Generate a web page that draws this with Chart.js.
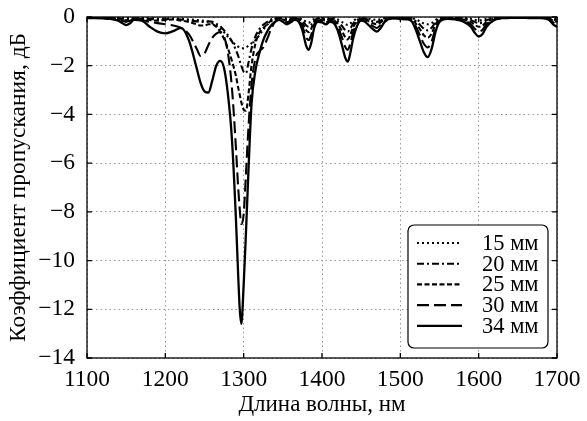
<!DOCTYPE html>
<html><head><meta charset="utf-8">
<script src="https://cdn.jsdelivr.net/npm/chart.js@4/dist/chart.umd.min.js"></script>
<style>html,body{margin:0;padding:0;background:#fff}#wrap{width:587px;height:421px}</style>
</head><body><div id="wrap"><canvas id="c" width="587" height="421"></canvas></div>
<script>
const wavelengths = [1100,1110,1120,1130,1140,1145,1150,1155,1160,1170,1180,1190,1200,1210,1220,1230,1240,1245,1250,1255,1260,1265,1270,1275,1280,1285,1290,1293,1295,1297,1300,1303,1306,1310,1315,1320,1325,1330,1335,1340,1345,1350,1355,1360,1365,1370,1375,1380,1383,1386,1390,1395,1400,1405,1410,1415,1420,1425,1430,1433,1436,1440,1445,1450,1455,1460,1465,1470,1475,1480,1490,1500,1510,1515,1520,1525,1530,1535,1540,1545,1550,1560,1570,1580,1590,1595,1600,1605,1610,1620,1630,1640,1650,1660,1670,1680,1690,1695,1700];

const t15 = [-0.01,-0.01,-0.02,-0.02,-0.03,-0.04,-0.05,-0.04,-0.03,-0.04,-0.05,-0.06,-0.06,-0.07,-0.08,-0.1,-0.12,-0.14,-0.16,-0.2,-0.26,-0.35,-0.48,-0.63,-0.82,-1.0,-1.15,-1.22,-1.26,-1.28,-1.28,-1.25,-1.18,-1.08,-0.95,-0.75,-0.52,-0.32,-0.18,-0.1,-0.05,-0.05,-0.06,-0.05,-0.03,-0.04,-0.1,-0.2,-0.23,-0.18,-0.08,-0.04,-0.05,-0.06,-0.04,-0.05,-0.1,-0.2,-0.3,-0.33,-0.27,-0.15,-0.07,-0.03,-0.04,-0.07,-0.1,-0.12,-0.09,-0.04,-0.02,-0.02,-0.03,-0.05,-0.1,-0.18,-0.27,-0.3,-0.25,-0.12,-0.04,-0.02,-0.02,-0.03,-0.07,-0.11,-0.14,-0.12,-0.07,-0.03,-0.01,-0.01,-0.01,-0.01,-0.01,-0.01,-0.03,-0.06,-0.08];

const t20 = [-0.02,-0.02,-0.03,-0.03,-0.05,-0.07,-0.09,-0.07,-0.05,-0.06,-0.08,-0.1,-0.09,-0.08,-0.1,-0.14,-0.18,-0.2,-0.2,-0.18,-0.2,-0.28,-0.38,-0.55,-0.75,-1.0,-1.35,-1.6,-1.8,-2.0,-2.25,-2.3,-1.9,-1.3,-0.8,-0.5,-0.32,-0.2,-0.1,-0.05,-0.04,-0.07,-0.1,-0.07,-0.04,-0.05,-0.16,-0.35,-0.4,-0.32,-0.14,-0.07,-0.08,-0.1,-0.07,-0.08,-0.18,-0.35,-0.55,-0.6,-0.48,-0.26,-0.12,-0.05,-0.07,-0.12,-0.17,-0.2,-0.15,-0.07,-0.03,-0.03,-0.04,-0.07,-0.18,-0.32,-0.48,-0.55,-0.44,-0.2,-0.07,-0.03,-0.03,-0.06,-0.13,-0.2,-0.26,-0.22,-0.13,-0.05,-0.02,-0.02,-0.01,-0.02,-0.02,-0.02,-0.05,-0.1,-0.13];

const t25 = [-0.02,-0.03,-0.04,-0.04,-0.07,-0.1,-0.14,-0.1,-0.07,-0.08,-0.12,-0.15,-0.12,-0.1,-0.15,-0.2,-0.3,-0.35,-0.35,-0.3,-0.3,-0.4,-0.6,-0.9,-1.3,-1.8,-2.4,-2.9,-3.2,-3.5,-3.8,-3.85,-3.2,-2.0,-1.1,-0.65,-0.45,-0.3,-0.15,-0.08,-0.06,-0.1,-0.15,-0.1,-0.06,-0.08,-0.25,-0.55,-0.62,-0.5,-0.2,-0.1,-0.12,-0.15,-0.1,-0.12,-0.28,-0.55,-0.85,-0.92,-0.75,-0.4,-0.18,-0.08,-0.1,-0.18,-0.26,-0.3,-0.22,-0.1,-0.04,-0.04,-0.06,-0.1,-0.28,-0.5,-0.75,-0.85,-0.68,-0.3,-0.1,-0.04,-0.05,-0.1,-0.2,-0.32,-0.4,-0.35,-0.2,-0.07,-0.03,-0.02,-0.02,-0.02,-0.03,-0.03,-0.07,-0.15,-0.2];

const t30 = [-0.03,-0.04,-0.05,-0.05,-0.1,-0.15,-0.2,-0.15,-0.1,-0.12,-0.2,-0.25,-0.3,-0.35,-0.45,-0.7,-1.3,-1.6,-1.5,-1.15,-0.85,-0.68,-0.62,-0.8,-1.5,-2.9,-5.3,-7.0,-7.9,-8.5,-8.1,-6.4,-4.6,-2.8,-1.7,-1.4,-1.25,-0.9,-0.5,-0.2,-0.1,-0.15,-0.22,-0.15,-0.1,-0.12,-0.4,-0.85,-0.95,-0.75,-0.3,-0.15,-0.18,-0.22,-0.15,-0.18,-0.4,-0.8,-1.25,-1.35,-1.1,-0.6,-0.25,-0.12,-0.15,-0.25,-0.38,-0.45,-0.32,-0.15,-0.05,-0.06,-0.08,-0.15,-0.4,-0.75,-1.1,-1.25,-1.0,-0.45,-0.15,-0.06,-0.08,-0.14,-0.3,-0.48,-0.6,-0.52,-0.3,-0.1,-0.04,-0.03,-0.02,-0.03,-0.04,-0.04,-0.1,-0.22,-0.3];

const t34 = [-0.05,-0.05,-0.06,-0.08,-0.15,-0.25,-0.33,-0.26,-0.12,-0.15,-0.4,-0.6,-0.67,-0.58,-0.45,-0.95,-2.1,-2.7,-3.05,-3.1,-2.6,-2.0,-1.8,-2.1,-3.2,-5.0,-8.2,-10.6,-12.0,-12.6,-11.0,-8.8,-6.4,-3.6,-2.2,-1.5,-0.95,-0.6,-0.35,-0.2,-0.12,-0.2,-0.3,-0.22,-0.12,-0.18,-0.55,-1.2,-1.35,-1.1,-0.45,-0.2,-0.22,-0.3,-0.2,-0.25,-0.55,-1.1,-1.7,-1.83,-1.5,-0.85,-0.35,-0.15,-0.2,-0.35,-0.5,-0.6,-0.45,-0.2,-0.06,-0.08,-0.1,-0.2,-0.55,-1.0,-1.45,-1.65,-1.3,-0.6,-0.2,-0.08,-0.1,-0.18,-0.4,-0.65,-0.8,-0.7,-0.4,-0.12,-0.05,-0.04,-0.03,-0.04,-0.05,-0.05,-0.12,-0.3,-0.4];

const seriesLabels = ['15 мм','20 мм','25 мм','30 мм','34 мм'];
const seriesValues = [t15, t20, t25, t30, t34];
const seriesDashes = [[2,3],[7,3,2,3],[5,2.5],[12,5],[]];
const xTitle = 'Длина волны, нм';
const yTitle = 'Коэффициент пропускания, дБ';

const FONT = "'Liberation Serif', 'Times New Roman', serif";
Chart.defaults.font.family = FONT;
Chart.defaults.color = '#000';

const datasets = seriesValues.map((vals, k) => ({
  label: seriesLabels[k],
  data: wavelengths.map((w, i) => ({x: w, y: vals[i]})),
  borderColor: '#000',
  borderWidth: k === 4 ? 2.3 : 2.1,
  borderDash: seriesDashes[k],
  pointRadius: 0,
  fill: false,
  cubicInterpolationMode: 'monotone'
}));

const framePlugin = {
  id: 'frameLegend',
  afterDatasetsDraw(chart) {
    const {ctx, chartArea: a, scales} = chart;
    ctx.save();
    ctx.setLineDash([]);
    ctx.strokeStyle = '#000';
    ctx.lineWidth = 1.3;
    ctx.strokeRect(a.left, a.top, a.width, a.height);
    const L = 5;
    ctx.beginPath();
    scales.x.ticks.forEach(t => {
      const x = scales.x.getPixelForValue(t.value);
      ctx.moveTo(x, a.bottom); ctx.lineTo(x, a.bottom - L);
      ctx.moveTo(x, a.top); ctx.lineTo(x, a.top + L);
    });
    scales.y.ticks.forEach(t => {
      const y = scales.y.getPixelForValue(t.value);
      ctx.moveTo(a.left, y); ctx.lineTo(a.left + L, y);
      ctx.moveTo(a.right, y); ctx.lineTo(a.right - L, y);
    });
    ctx.stroke();
    // legend box
    const bw = 140, bh = 123;
    const bx = a.right - 9 - bw, by = a.bottom - 10 - bh;
    ctx.beginPath();
    ctx.roundRect(bx, by, bw, bh, 6);
    ctx.fillStyle = '#fff';
    ctx.fill();
    ctx.lineWidth = 1.2;
    ctx.stroke();
    const rowH = 20.7;
    chart.data.datasets.forEach((ds, i) => {
      const y = by + 18 + i * rowH;
      ctx.beginPath();
      ctx.setLineDash(ds.borderDash || []);
      ctx.lineWidth = ds.borderWidth;
      ctx.moveTo(bx + 9, y); ctx.lineTo(bx + 54, y);
      ctx.stroke();
      ctx.setLineDash([]);
      ctx.fillStyle = '#000';
      ctx.font = '22.5px ' + FONT;
      ctx.textAlign = 'left';
      ctx.textBaseline = 'middle';
      ctx.fillText(ds.label, bx + 74, y + 1);
    });
    ctx.restore();
  }
};

const minusFmt = v => String(v).replace('-', '\u2212');

new Chart(document.getElementById('c'), {
  type: 'line',
  data: {datasets},
  options: {
    responsive: false,
    animation: false,
    devicePixelRatio: 1,
    layout: {padding: {top: 17, right: 30, left: 0, bottom: 0}},
    plugins: {legend: {display: false}, tooltip: {enabled: false}},
    scales: {
      x: {
        type: 'linear', min: 1100, max: 1700,
        ticks: {stepSize: 100, padding: 8, font: {size: 23.5, family: FONT}, color: '#000', maxRotation: 0, callback: v => minusFmt(v)},
        grid: {color: '#999', lineWidth: 1, drawTicks: false},
        border: {display: false, dash: [1.5, 3]},
        title: {display: true, text: xTitle, font: {size: 23, family: FONT}, color: '#000', padding: {top: 0, bottom: 2}},
        afterFit(s) { s.height = 63; s.paddingLeft = 0; s.paddingRight = 0; }
      },
      y: {
        type: 'linear', min: -14, max: 0,
        ticks: {stepSize: 2, padding: 12, font: {size: 23.5, family: FONT}, color: '#000', callback: v => minusFmt(v)},
        grid: {color: '#999', lineWidth: 1, drawTicks: false},
        border: {display: false, dash: [1.5, 3]},
        title: {display: true, text: yTitle, font: {size: 23.5, family: FONT}, color: '#000', padding: {top: 5, bottom: 0}},
        afterFit(s) { s.width = 87; s.paddingTop = 0; s.paddingBottom = 0; }
      }
    }
  },
  plugins: [framePlugin]
});
</script>
</body></html>
